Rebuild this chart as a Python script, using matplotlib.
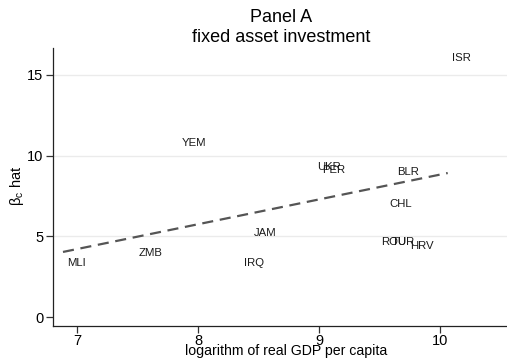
import matplotlib
matplotlib.use("Agg")
import matplotlib.pyplot as plt

plt.rcParams['font.family'] = ['Liberation Sans', 'DejaVu Sans']

# country codes with log real GDP per capita and estimated beta_c
countries = ["ISR", "YEM", "UKR", "PER", "BLR", "CHL", "ROU", "TUR", "HRV",
             "JAM", "ZMB", "MLI", "IRQ"]
log_gdp = [10.17, 7.96, 9.08, 9.12, 9.73, 9.67, 9.61, 9.69, 9.85,
           8.55, 7.60, 6.99, 8.46]
beta_hat = [16.03, 10.80, 9.29, 9.11, 8.98, 6.99, 4.65, 4.67, 4.40,
            5.20, 3.98, 3.35, 3.35]

# linear fit endpoints
fit_x = [6.88, 10.06]
fit_y = [4.04, 8.92]

x_ticks = [7, 8, 9, 10]
y_ticks = [0, 5, 10, 15]

W, H = 507, 360
fig = plt.figure(figsize=(W / 100, H / 100), dpi=100)
ax = fig.add_axes([53.3 / W, 1 - 325.7 / H, 1 - 53.3 / W, (325.7 - 48) / H])

for v in y_ticks[1:]:
    ax.axhline(v, color='#ebebeb', lw=1.0, zorder=0)

for name, xv, yv in zip(countries, log_gdp, beta_hat):
    ax.text(xv, yv, name, ha='center', va='center', fontsize=8.2, color='#1a1a1a')

ax.plot(fit_x, fit_y, color='#555555', lw=1.6, dashes=(5, 3))

ax.set_xlim(6.80, 10.55)
ax.set_ylim(-0.52, 16.65)
ax.set_xticks(x_ticks)
ax.set_yticks(y_ticks)
ax.tick_params(labelsize=10.5, length=5, width=0.9, color='#333333', pad=2)
ax.tick_params(axis='x', pad=0.8)
for s in ['top', 'right']:
    ax.spines[s].set_visible(False)
for s in ['left', 'bottom']:
    ax.spines[s].set_color('#222222')
    ax.spines[s].set_linewidth(0.9)

fig.text(286 / W, 1 - 355 / H, 'logarithm of real GDP per capita',
         ha='center', va='baseline', fontsize=10.2)
fig.text(17 / W, 1 - 186 / H, r'$\mathregular{\beta_c}$ hat',
         ha='center', va='center', rotation=90, fontsize=10.5)

fig.text(281 / W, 1 - 17 / H, 'Panel A', ha='center', va='center', fontsize=13)
fig.text(281 / W, 1 - 37 / H, 'fixed asset investment', ha='center', va='center', fontsize=13)

fig.savefig('out.png', dpi=100)
